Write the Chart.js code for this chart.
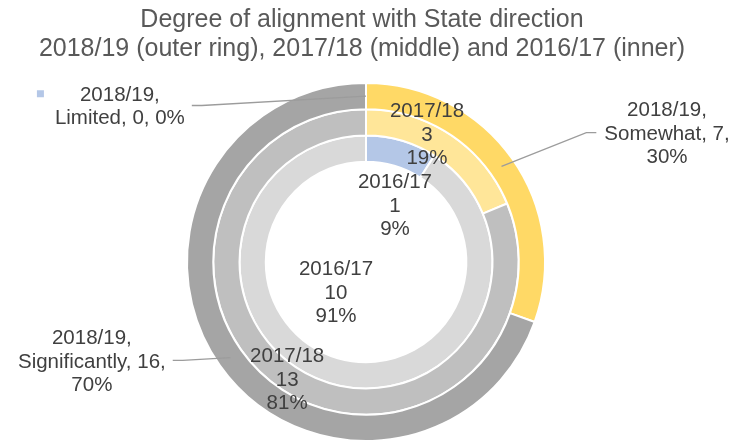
<!DOCTYPE html>
<html>
<head>
<meta charset="utf-8">
<script src="https://cdn.jsdelivr.net/npm/chart.js@4.4.1/dist/chart.umd.min.js"></script>
<style>
  html, body { margin: 0; padding: 0; background: #fff; overflow: hidden; }
  #wrap { position: relative; width: 751px; height: 444px; }
</style>
</head>
<body>
<div id="wrap"><canvas id="ringChart"></canvas></div>
<script>
const titleLines = ['Degree of alignment with State direction', '2018/19 (outer ring), 2017/18 (middle) and 2016/17 (inner)'];
const categories = ['Limited', 'Somewhat', 'Significantly'];
const years = ['2018/19', '2017/18', '2016/17'];
const values1819 = [0, 7, 16];
const values1718 = [0, 3, 13];
const values1617 = [1, 0, 10];

const colors1819 = ['#B4C7E7', '#FFD966', '#A5A5A5'];
const colors1718 = ['#C9D7EE', '#FFE699', '#BFBFBF'];
const colors1617 = ['#B4C7E7', '#FFF2CC', '#D9D9D9'];

// where each label sits: turn from slice middle (deg), distance as share of outer radius
const labelSpots = [
    [{ da: -57.8, rf: 1.625, key: true }, { da: 12.2, rf: 1.827 }, { da: 15.2, rf: 1.63 }],
    [null, { da: -8.1, rf: 0.787 }, { da: 0, rf: 0.793 }],
    [{ da: 11, rf: 0.352 }, null, { da: 27.7, rf: 0.241 }]
];

const labelFont = '20.5px "Liberation Sans", Arial, sans-serif';
const lineGap = 23.5;

function percent(values, i) {
    const total = values.reduce((a, b) => a + b, 0);
    return Math.round(values[i] / total * 100);
}

function labelLines(ctx, d, i, values) {
    const p = percent(values, i);
    if (d > 0) return [years[d], String(values[i]), p + '%'];
    const tail = `${categories[i]}, ${values[i]}, ${p}%`;
    if (ctx.measureText(tail).width <= 150) return [years[d] + ',', tail];
    return [years[d] + ',', `${categories[i]}, ${values[i]},`, p + '%'];
}

const ringLabels = {
    id: 'ringLabels',
    afterDraw(chart) {
        const ctx = chart.ctx;
        const area = chart.chartArea;
        const midX = (area.left + area.right) / 2;
        ctx.save();

        ctx.fillStyle = '#595959';
        ctx.font = '25px "Liberation Sans", Arial, sans-serif';
        ctx.textAlign = 'center';
        ctx.textBaseline = 'alphabetic';
        titleLines.forEach((t, n) => ctx.fillText(t, midX - 4, 27 + n * 29));

        const R = chart.getDatasetMeta(0).data[0].outerRadius;
        ctx.font = labelFont;
        ctx.textBaseline = 'middle';

        chart.data.datasets.forEach((ds, d) => {
            const meta = chart.getDatasetMeta(d);
            meta.data.forEach((arc, i) => {
                const spot = labelSpots[d][i];
                if (!spot) return;
                const p = arc.getProps(['x', 'y', 'startAngle', 'endAngle', 'innerRadius', 'outerRadius'], true);
                const mid = (p.startAngle + p.endAngle) / 2;
                const a = mid + spot.da * Math.PI / 180;
                const x = p.x + Math.cos(a) * spot.rf * R;
                const y = p.y + Math.sin(a) * spot.rf * R;
                const lines = labelLines(ctx, d, i, ds.data);
                const w = Math.max(...lines.map(l => ctx.measureText(l).width));
                const top = y - (lines.length - 1) * lineGap / 2;

                if (d === 0) {
                    const ringR = (p.innerRadius + p.outerRadius) / 2;
                    const ax = p.x + Math.cos(mid) * ringR;
                    const ay = p.y + Math.sin(mid) * ringR;
                    const right = x > p.x;
                    const sx = right ? x - w / 2 - 8 : x + w / 2 + 7;
                    const sy = y - 1.5;
                    ctx.strokeStyle = '#9C9C9C';
                    ctx.lineWidth = 1.3;
                    ctx.beginPath();
                    ctx.moveTo(sx, sy);
                    ctx.lineTo(sx + (right ? -10 : 10), sy);
                    ctx.lineTo(ax, ay);
                    ctx.stroke();
                }

                if (spot.key) {
                    ctx.fillStyle = ds.backgroundColor[i];
                    ctx.fillRect(x - w / 2 - 18, top - 5, 7, 7);
                }

                ctx.fillStyle = '#404040';
                ctx.textAlign = 'center';
                lines.forEach((l, n) => ctx.fillText(l, x, top + n * lineGap));
            });
        });
        ctx.restore();
    }
};

const ctx = document.getElementById('ringChart').getContext('2d');
new Chart(ctx, {
    type: 'doughnut',
    data: {
        labels: categories,
        datasets: [
            { label: years[0], data: values1819, backgroundColor: colors1819 },
            { label: years[1], data: values1718, backgroundColor: colors1718 },
            { label: years[2], data: values1617, backgroundColor: colors1617 }
        ]
    },
    options: {
        responsive: true,
        maintainAspectRatio: false,
        animation: false,
        cutout: '56%',
        layout: { padding: { top: 82, bottom: 2, left: 186, right: 205 } },
        elements: {
            arc: { borderColor: '#ffffff', borderWidth: 2, hoverOffset: 0 }
        },
        plugins: {
            legend: { display: false },
            title: { display: false },
            tooltip: { enabled: false }
        }
    },
    plugins: [ringLabels]
});
</script>
</body>
</html>
